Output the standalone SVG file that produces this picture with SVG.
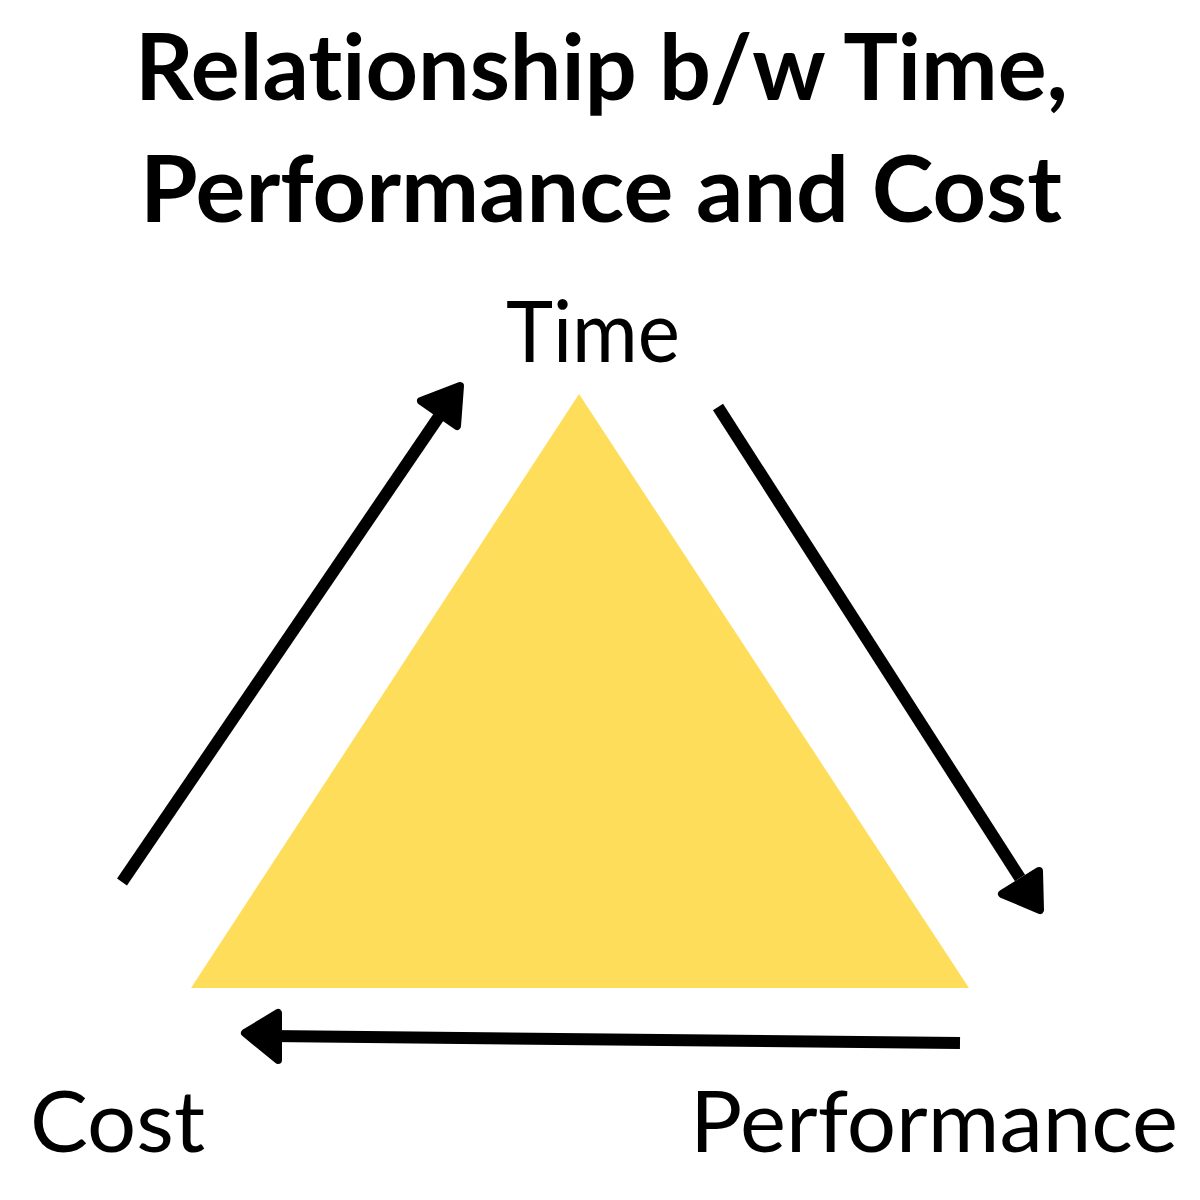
<svg xmlns="http://www.w3.org/2000/svg" width="1200" height="1200" viewBox="0 0 1200 1200">
<style>
text{font-variant-ligatures:none;font-feature-settings:"liga" 0,"clig" 0}
.title{font-family:"Lato","Liberation Sans",sans-serif;font-weight:700;font-size:92px;fill:#000}
.lbl{font-family:"Lato","Liberation Sans",sans-serif;font-weight:400;font-size:86px;fill:#000}
.ln{stroke:#000;stroke-width:12;fill:none}
.ah{fill:#000;stroke:#000;stroke-width:8;stroke-linejoin:round}
</style>
<rect width="1200" height="1200" fill="#fff"/>
<g id="title">
<text class="title" x="135" y="100" textLength="933" lengthAdjust="spacingAndGlyphs">Relationship b/w Time,</text>
<text class="title" x="140" y="222" textLength="922" lengthAdjust="spacingAndGlyphs">Performance and Cost</text>
</g>
<g id="triangle">
<polygon points="579,394 969,988 191,988" fill="#FEDD5B"/>
</g>
<g id="time"><text class="lbl" x="506" y="362" textLength="174" lengthAdjust="spacingAndGlyphs">Time</text></g>
<g id="cost"><text class="lbl" x="30" y="1152" textLength="175" lengthAdjust="spacingAndGlyphs">Cost</text></g>
<g id="performance"><text class="lbl" x="690" y="1152" textLength="488" lengthAdjust="spacingAndGlyphs">Performance</text></g>
<g id="connectors">
<line class="ln" x1="122" y1="882" x2="440" y2="415"/>
<polygon class="ah" points="460,386 421,401 457,426"/>
<line class="ln" x1="718" y1="407" x2="1020" y2="878"/>
<polygon class="ah" points="1040,910 1039,871 1002,894"/>
<line class="ln" x1="960" y1="1043" x2="270" y2="1036"/>
<polygon class="ah" points="245,1033 278,1013 278,1060"/>
</g>
</svg>
